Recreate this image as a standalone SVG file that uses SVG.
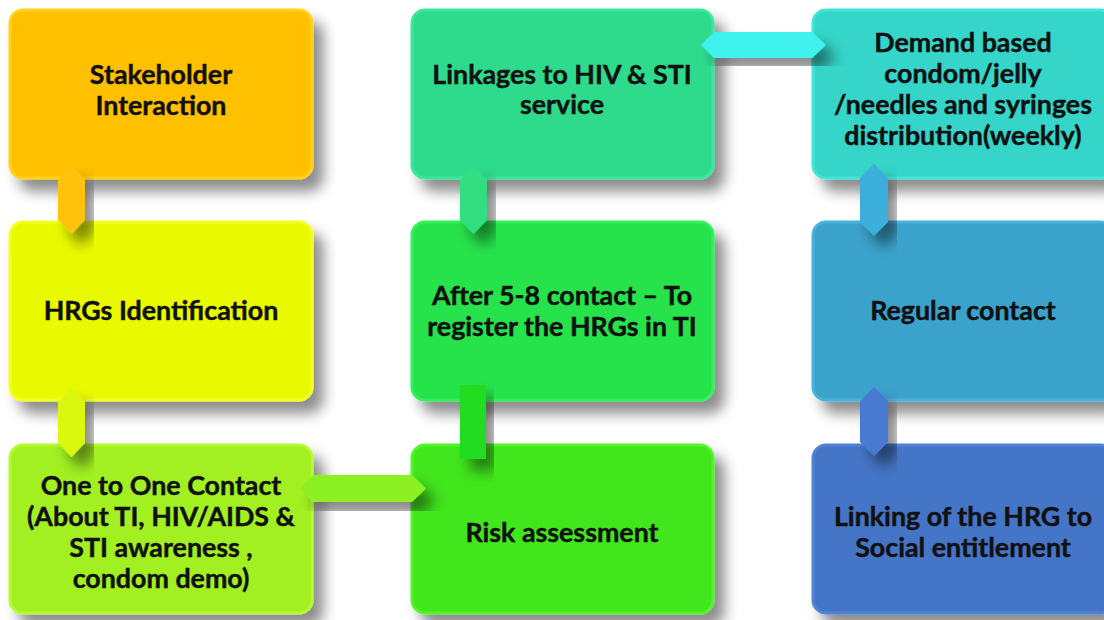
<svg xmlns="http://www.w3.org/2000/svg" width="1104" height="620" viewBox="0 0 1104 620">
<defs>
<filter id="sh" x="-20%" y="-20%" width="150%" height="150%">
<feDropShadow dx="10" dy="12" stdDeviation="7" flood-color="#000" flood-opacity="0.45"/>
</filter>
<style>
.box{filter:url(#sh);}
.t{font-family:Lato,"Open Sans","Liberation Sans",sans-serif;font-weight:bold;font-size:26.8px;fill:#111;stroke:#111;stroke-width:0.45;text-anchor:middle;}
.c{filter:url(#sh);}
</style>
</defs>
<rect width="1104" height="620" fill="#fff"/>

<g id="n1"><rect class="box" x="10" y="10" width="302" height="168" rx="13" fill="#FFC000" stroke="#FFD21a" stroke-width="3"/>
<text class="t" x="161" y="84">Stakeholder</text><text class="t" x="161" y="115">Interaction</text></g>
<g id="n2"><rect class="box" x="10" y="222" width="302" height="178" rx="13" fill="#E9FA00" stroke="#F4FF20" stroke-width="3"/>
<text class="t" x="161" y="320">HRGs Identification</text></g>
<g id="n3"><rect class="box" x="10" y="445" width="302" height="168" rx="13" fill="#A2F020" stroke="#B4FA30" stroke-width="3"/>
<text class="t" x="161" y="495">One to One Contact</text><text class="t" x="161" y="526">(About TI, HIV/AIDS &amp;</text><text class="t" x="161" y="557">STI awareness ,</text><text class="t" x="161" y="588">condom demo)</text></g>
<g id="n4"><rect class="box" x="412" y="445" width="301" height="168" rx="13" fill="#42E61E" stroke="#52F42A" stroke-width="3"/>
<text class="t" x="562" y="542">Risk assessment</text></g>
<g id="n5"><rect class="box" x="412" y="222" width="301" height="178" rx="13" fill="#25E24C" stroke="#30F05A" stroke-width="3"/>
<text class="t" x="562" y="305">After 5-8 contact – To</text><text class="t" x="562" y="336">register the HRGs in TI</text></g>
<g id="n6"><rect class="box" x="412" y="10" width="301" height="168" rx="13" fill="#2FDB8C" stroke="#3AE89A" stroke-width="3"/>
<text class="t" x="562" y="84">Linkages to HIV &amp; STI</text><text class="t" x="562" y="114">service</text></g>
<g id="n7"><rect class="box" x="813" y="10" width="300" height="168" rx="13" fill="#36D5C9" stroke="#40E6DA" stroke-width="3"/>
<text class="t" x="963" y="52">Demand based</text><text class="t" x="963" y="83">condom/jelly</text><text class="t" x="963" y="114">/needles and syringes</text><text class="t" x="963" y="145">distribution(weekly)</text></g>
<g id="n8"><rect class="box" x="813" y="222" width="300" height="178" rx="13" fill="#3AA2CC" stroke="#46B4DC" stroke-width="3"/>
<text class="t" x="963" y="320">Regular contact</text></g>
<g id="n9"><rect class="box" x="813" y="445" width="300" height="168" rx="13" fill="#4574C6" stroke="#5084D4" stroke-width="3"/>
<text class="t" x="963" y="526">Linking of the HRG to</text><text class="t" x="963" y="557">Social entitlement</text></g>

<g id="connectors">
<polygon class="c" points="71.5,166 85,180 85,220 71.5,234 58,220 58,180" fill="#FFC20A"/>
<polygon class="c" points="71.5,388 85,402 85,443 71.5,457 58,443 58,402" fill="#DAF810"/>
<polygon class="c" points="300,488.5 313,475 412,475 426,488.5 412,502 313,502" fill="#8CF022"/>
<rect class="c" x="460" y="385" width="26" height="74" fill="#22DC22"/>
<polygon class="c" points="473.5,166 487,180 487,220 473.5,234 460,220 460,180" fill="#30DE80"/>
<polygon class="c" points="701,45 714,32 812,32 826,45 812,58 714,58" fill="#40F2EE"/>
<polygon class="c" points="874,164 888,178 888,222 874,236 860,222 860,178" fill="#3AAEDA"/>
<polygon class="c" points="874,387 888,401 888,442 874,456 860,442 860,401" fill="#4A7AD2"/>
</g>
</svg>
